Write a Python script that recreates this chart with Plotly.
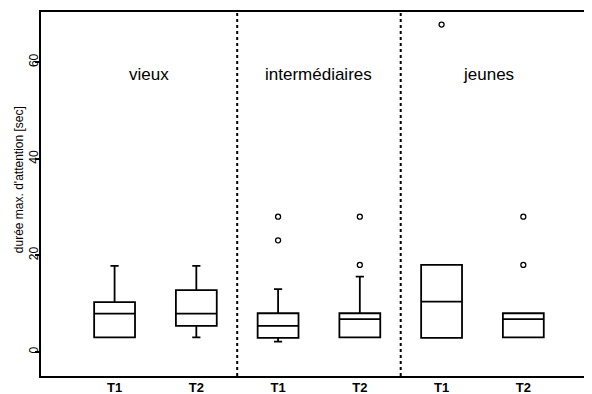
import plotly.graph_objects as go

# ---- data ----
positions = [1, 2, 3, 4, 5, 6]
tick_labels = ["T1", "T2", "T1", "T2", "T1", "T2"]
group_names = ["vieux", "intermédiaires", "jeunes"]
group_label_x = [1.42, 3.5, 5.58]
group_label_y = 57.5

lower_fence = [3, 3, 2.1, 3, 3, 3]
q1 = [3, 5.4, 2.9, 3, 2.9, 3]
median = [7.9, 7.9, 5.4, 6.8, 10.4, 6.8]
q3 = [10.3, 12.8, 8.0, 8.0, 18, 8.0]
upper_fence = [17.8, 17.8, 13.0, 15.6, 18, 8.0]

outlier_x = [3, 3, 4, 4, 5, 6, 6]
outlier_y = [23.1, 28.0, 18.0, 28.0, 67.8, 18.0, 28.0]

y_ticks = [0, 20, 40, 60]
y_title = "durée max. d'attention [sec]"

FONT = "Liberation Sans, Arial, Helvetica, sans-serif"

fig = go.Figure()
fig.add_trace(go.Box(
    x=positions, q1=q1, median=median, q3=q3,
    lowerfence=lower_fence, upperfence=upper_fence,
    width=0.5, whiskerwidth=0.2,
    line=dict(color="black", width=1.8),
    fillcolor="rgba(255,255,255,0)",
    boxpoints=False, showlegend=False, hoverinfo="skip",
))
fig.add_trace(go.Scatter(
    x=outlier_x, y=outlier_y, mode="markers",
    marker=dict(symbol="circle-open", size=5, color="black", line=dict(width=1.3)),
    showlegend=False, hoverinfo="skip",
))

# dashed dividers between groups
for i in range(1, len(group_names)):
    xd = (positions[2 * i - 1] + positions[2 * i]) / 2
    fig.add_shape(type="line", x0=xd, x1=xd, y0=0, y1=1, xref="x", yref="paper",
                  line=dict(color="black", width=2, dash="dot"))

for name, gx in zip(group_names, group_label_x):
    fig.add_annotation(x=gx, y=group_label_y, text=name, showarrow=False,
                       font=dict(family=FONT, size=17, color="black"))

fig.add_annotation(x=0, y=0.538, xref="paper", yref="paper", text=y_title,
                   textangle=-90, showarrow=False, xanchor="center", yanchor="middle",
                   xshift=-22, font=dict(family=FONT, size=12, color="black"))

fig.update_xaxes(
    range=[0.10, 6.84], tickvals=positions, ticktext=tick_labels,
    tickfont=dict(family=FONT, size=13, color="black", weight="bold"),
    showline=True, linecolor="black", linewidth=2, mirror=True,
    showgrid=False, zeroline=False, ticks="", ticklabelstandoff=-2,
    automargin=False,
)
fig.update_yaxes(
    range=[-5.0, 70.4], tickvals=y_ticks, tickangle=-90,
    tickfont=dict(family=FONT, size=12, color="black"),
    showline=True, linecolor="black", linewidth=2, mirror=False,
    showgrid=False, zeroline=False, ticks="outside", ticklen=4, tickwidth=1.5,
    tickcolor="black", ticklabelstandoff=-8, automargin=False,
)
# the page body has an 8px default margin, so the figure is 8px smaller
fig.update_layout(
    template="none",
    width=584, height=386,
    margin=dict(l=33, r=0, t=4, b=18, pad=0),
    plot_bgcolor="white", paper_bgcolor="white",
    font=dict(family=FONT, color="black"),
)
fig.write_html("out.html")
